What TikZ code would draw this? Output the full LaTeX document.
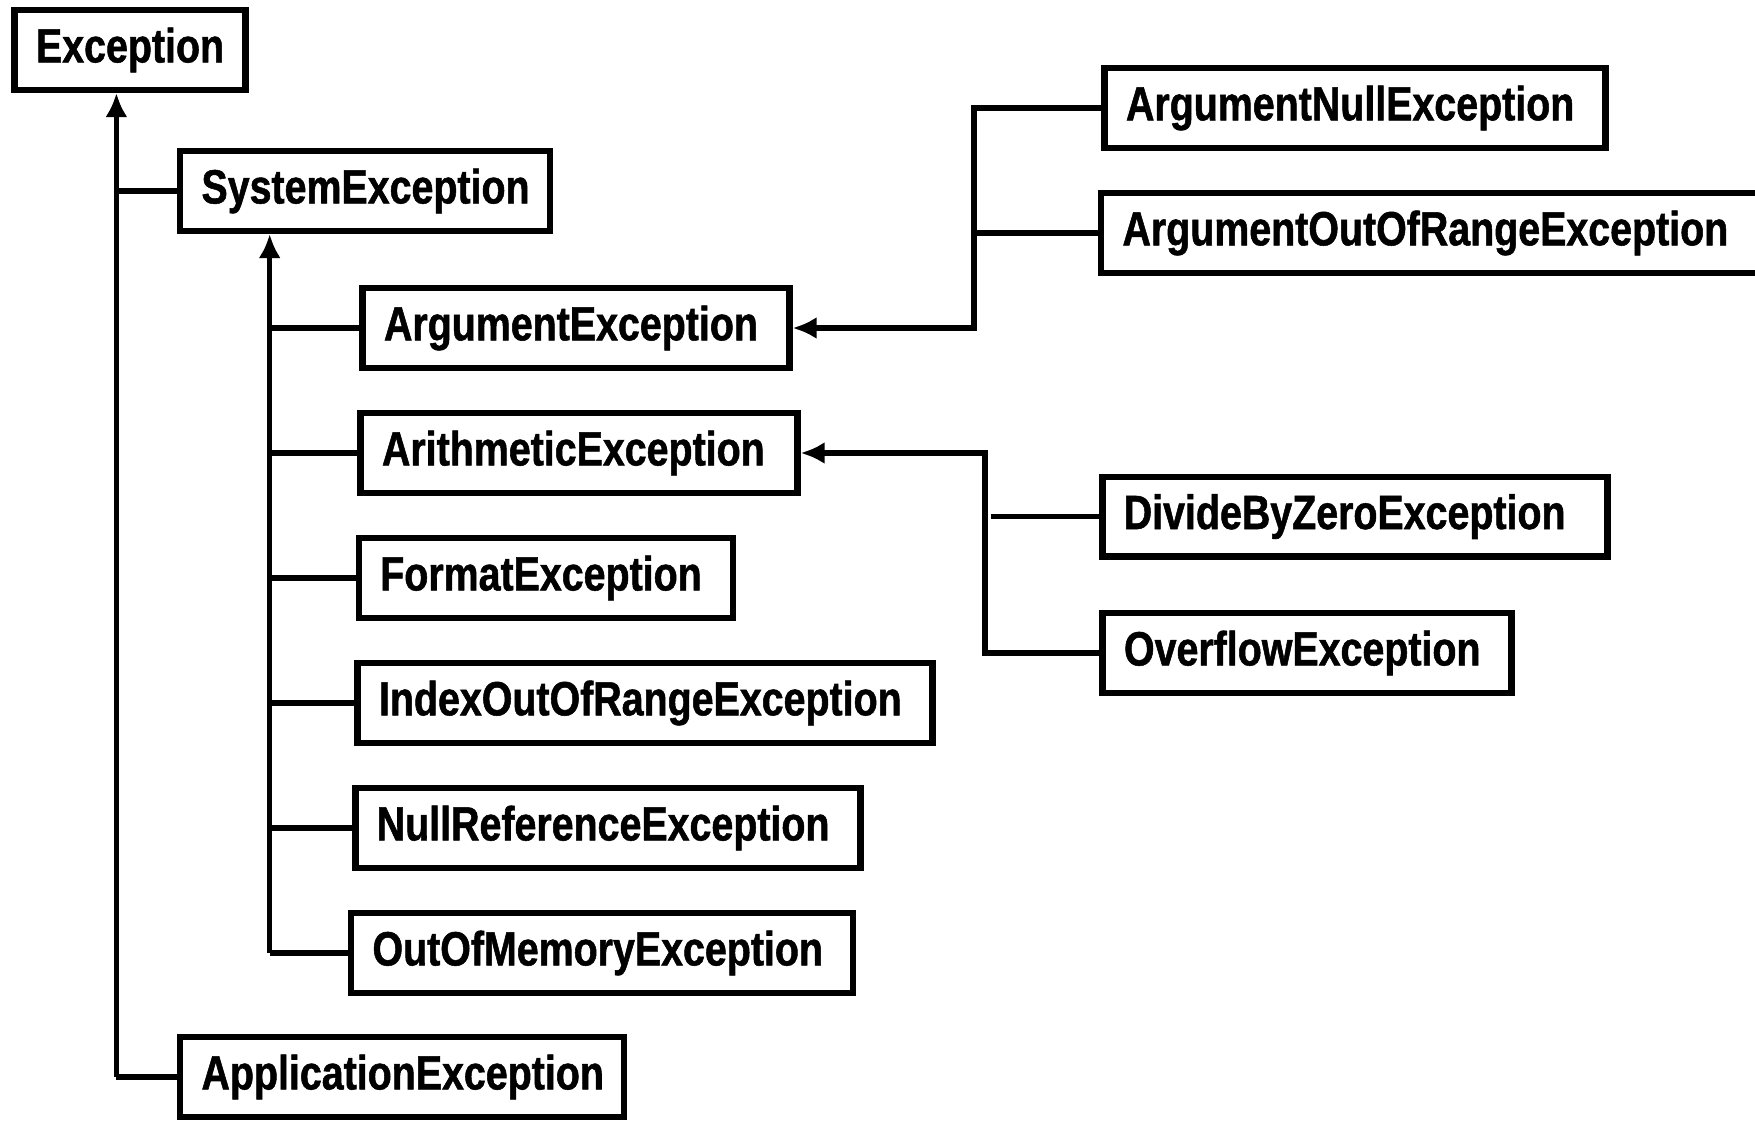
\documentclass[tikz,border=0pt]{standalone}
\usepackage{fontspec}
\setmainfont[FakeStretch=0.82,FakeBold=1.1]{Liberation Sans}
\usetikzlibrary{arrows.meta}
\begin{document}
\begin{tikzpicture}[x=0.5pt,y=-0.5pt,
  box/.style={draw, line width=3.2pt, inner xsep=10.7pt, inner ysep=0pt,
    minimum height=39.8pt, align=left, anchor=center,
    font=\bfseries\fontsize{24}{28}\selectfont},
  conn/.style={line width=2.7pt},
  arr/.style={conn, -{Latex[length=12pt,width=11pt]}}]
\useasboundingbox (0,0) rectangle (1755,1120);
% nodes
\node[box, text width=94pt]     (exc) at (130,50)    {Exception};
\node[box, text width=163.5pt]  (sys) at (365,191)   {SystemException};
\node[box, text width=192pt]    (ae)  at (576,328)   {ArgumentException};
\node[box, text width=197pt]    (ar)  at (579,453)   {ArithmeticException};
\node[box, text width=165.75pt] (fe)  at (546,578)   {FormatException};
\node[box, text width=266pt]    (ie)  at (645,703)   {IndexOutOfRangeException};
\node[box, text width=231.25pt] (ne)  at (608,828)   {NullReferenceException};
\node[box, text width=229.5pt]  (oe)  at (602,953)   {OutOfMemoryException};
\node[box, text width=200.5pt]  (app) at (402,1077)  {ApplicationException};
\node[box, text width=229pt]    (an)  at (1355,108)  {ArgumentNullException};
\node[box, text width=314pt]    (aor) at (1436.5,233) {ArgumentOutOfRangeException};
\node[box, text width=231.25pt] (dz)  at (1355,516.6) {DivideByZeroException};
\node[box, text width=183pt]    (ov)  at (1307,653)  {OverflowException};
% connectors
\coordinate (ev) at (116.4,1077);
\draw[arr] (ev) -- (ev |- exc.south);
\draw[conn] (ev) -- (app.west);
\draw[conn] (ev |- sys.west) -- (sys.west);
\coordinate (sv) at (269.7,953);
\draw[arr] (sv) -- (sv |- sys.south);
\foreach \n in {ae,ar,fe,ie,ne,oe} \draw[conn] (sv |- \n.west) -- (\n.west);
\coordinate (av) at (973.8,328);
\draw[arr] (an.west) -| (av) -- (ae.east);
\draw[conn] (av |- aor.west) -- (aor.west);
\coordinate (rv) at (985,453);
\draw[arr] (ov.west) -| (rv) -- (ar.east);
\coordinate (dzs) at (990.6,516.6);
\draw[conn] (dzs) -- (dz.west);
\end{tikzpicture}
\end{document}
